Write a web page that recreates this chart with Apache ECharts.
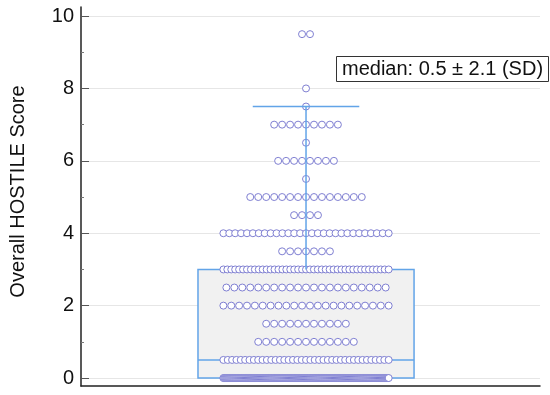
<!DOCTYPE html>
<html><head><meta charset="utf-8">
<script src="https://cdn.jsdelivr.net/npm/echarts@6/dist/echarts.min.js"></script>
<style>html,body{margin:0;padding:0;background:#fff}#c{width:550px;height:395px}</style>
</head><body><div id="c"></div>
<script>
// ---- data ----
const scoreLevels    = [0, 0.5, 1, 1.5, 2, 2.5, 3, 3.5, 4, 4.5, 5, 5.5, 6, 6.5, 7, 7.5, 8, 9.5];
const countsPerLevel = [170, 39, 13, 11, 22, 21, 43, 7, 29, 4, 15, 1, 8, 1, 9, 1, 1, 2];
const boxStats = [0, 0.5, 3, 0, 7.5]; // Q1, median, Q3, lower whisker, upper whisker
const yTickValues = [0, 2, 4, 6, 8, 10];
const yMinorTickValues = [1, 3, 5, 7, 9];
const medianValue = 0.5;
const sdValue = 2.1;
const yAxisTitle = 'Overall HOSTILE Score';

// ---- styling / layout constants ----
const FONT = 'Liberation Sans, Arial, sans-serif';
const DOT_STEP = 8, MAX_SPAN = 166, BOX_HALF = 108.5, CAP_HALF = 53.5;
const BLUE = '#62a4e8';

// dot-plot layout (rows centred on the box axis, compressed when too wide)
const dots = [];
scoreLevels.forEach((lv, k) => {
  const n = countsPerLevel[k];
  const step = n > 1 ? Math.min(DOT_STEP, MAX_SPAN / (n - 1)) : 0;
  for (let i = 0; i < n; i++) dots.push([(i - (n - 1) / 2) * step, lv]);
});

const chart = echarts.init(document.getElementById('c'), null, {renderer: 'canvas'});
chart.setOption({
  animation: false,
  backgroundColor: '#fff',
  textStyle: {fontFamily: FONT},
  title: {
    text: 'median: ' + medianValue + ' \u00b1 ' + sdValue + ' (SD)',
    left: 336, top: 56,
    padding: [3, 6, 3, 6],
    borderColor: '#333', borderWidth: 1,
    textStyle: {fontFamily: FONT, fontSize: 20, fontWeight: 'normal', color: '#111'}
  },
  grid: {left: 79, right: 10, top: 7, bottom: 9},
  xAxis: {
    type: 'value', min: -226, max: 235,
    axisLine: {show: true, onZero: false, lineStyle: {color: '#222', width: 1.5}},
    axisTick: {show: false}, axisLabel: {show: false}, splitLine: {show: false}
  },
  yAxis: [{
    type: 'value', min: -0.22, max: 10.25,
    name: yAxisTitle, nameLocation: 'middle', nameGap: 53,
    nameTextStyle: {fontFamily: FONT, fontSize: 20, color: '#111', padding: [0, 0, 0, 10]},
    axisLine: {show: true, onZero: false, lineStyle: {color: '#222', width: 1.5}},
    axisTick: {show: true, inside: true, length: 8, customValues: yTickValues, lineStyle: {color: '#555'}},
    axisLabel: {customValues: yTickValues, fontFamily: FONT, fontSize: 20, color: '#111', margin: 7},
    splitLine: {show: true, lineStyle: {color: '#e6e6e6', width: 1}}
  }, {
    type: 'value', min: -0.22, max: 10.25, position: 'left', offset: 0,
    axisLine: {show: false, onZero: false},
    axisTick: {show: true, inside: true, length: 3, customValues: yMinorTickValues, lineStyle: {color: '#777'}},
    axisLabel: {show: false}, splitLine: {show: false}
  }],
  series: [{
    type: 'custom', z: 1, clip: false,
    data: [boxStats],
    renderItem(params, api) {
      const q1 = api.value(0), med = api.value(1), q3 = api.value(2);
      const tl = api.coord([-BOX_HALF, q3]);
      const br = api.coord([BOX_HALF, q1]);
      const ml = api.coord([-BOX_HALF, med]);
      const mr = api.coord([BOX_HALF, med]);
      return {type: 'group', children: [
        {type: 'rect', shape: {x: tl[0], y: tl[1], width: br[0] - tl[0], height: br[1] - tl[1]},
         style: {fill: '#f1f1f1', stroke: BLUE, lineWidth: 1.5}},
        {type: 'line', shape: {x1: ml[0], y1: ml[1], x2: mr[0], y2: mr[1]},
         style: {stroke: BLUE, lineWidth: 1.5}}
      ]};
    }
  }, {
    type: 'scatter', z: 2, yAxisIndex: 0,
    data: dots, symbol: 'circle', symbolSize: 7,
    itemStyle: {color: '#fff', borderColor: '#7f7fd2', borderWidth: 1, opacity: 1},
    emphasis: {disabled: true}
  }, {
    type: 'custom', z: 3, clip: false,
    data: [boxStats],
    renderItem(params, api) {
      const q1 = api.value(0), q3 = api.value(2), lo = api.value(3), hi = api.value(4);
      const t = api.coord([0, q3]), h = api.coord([0, hi]);
      const b = api.coord([0, q1]), l = api.coord([0, lo]);
      const cl = api.coord([-CAP_HALF, hi]), cr = api.coord([CAP_HALF, hi]);
      const children = [
        {type: 'line', shape: {x1: t[0], y1: t[1], x2: h[0], y2: h[1]}, style: {stroke: BLUE, lineWidth: 1.5}},
        {type: 'line', shape: {x1: cl[0], y1: cl[1], x2: cr[0], y2: cr[1]}, style: {stroke: BLUE, lineWidth: 1.5}}
      ];
      if (lo < q1) children.push({type: 'line', shape: {x1: b[0], y1: b[1], x2: l[0], y2: l[1]}, style: {stroke: BLUE, lineWidth: 1.5}});
      return {type: 'group', children};
    }
  }]
});
</script></body></html>
